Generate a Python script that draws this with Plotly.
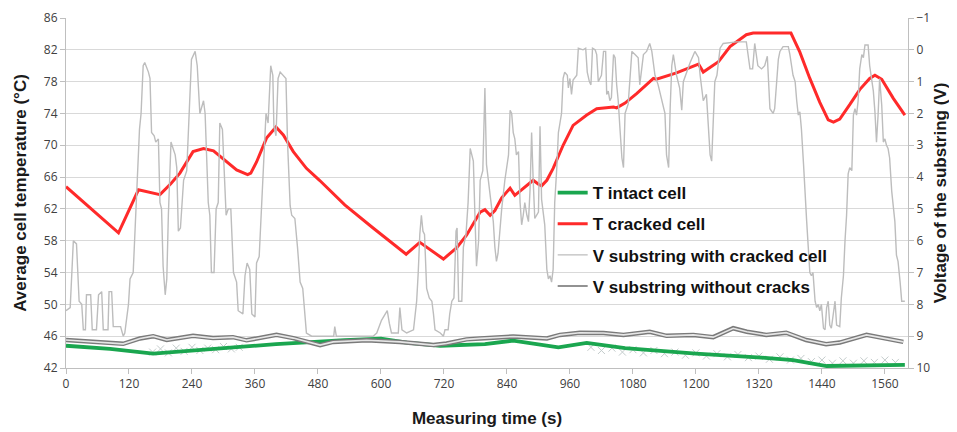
import plotly.graph_objects as go

# ---------------- data ----------------
# T cracked cell (°C), left axis
t_cracked = [0, 100, 138, 150, 179, 200, 217, 242, 262, 281, 306, 325, 346, 352, 363, 382, 400, 414,
             433, 458, 483, 531, 585, 648, 674, 719, 744, 763, 789, 798, 808, 817, 830, 846, 855,
             871, 890, 900, 906, 916, 928, 947, 966, 992, 1011, 1043, 1049, 1065, 1087, 1119, 1125,
             1163, 1205, 1214, 1243, 1265, 1296, 1309, 1340, 1381, 1398, 1417, 1436, 1452, 1462,
             1474, 1493, 1512, 1531, 1541, 1554, 1576, 1598]
T_cracked = [64.8, 59.0, 64.4, 64.2, 63.8, 65.2, 66.5, 69.2, 69.6, 69.3, 67.9, 66.9, 66.3, 66.5, 67.9,
             70.9, 72.3, 71.3, 69.2, 67.1, 65.6, 62.5, 59.6, 56.3, 57.8, 55.7, 57.1, 58.7, 61.6, 61.9,
             61.2, 61.8, 63.4, 64.6, 63.7, 64.6, 65.6, 65.1, 64.9, 65.6, 67.1, 70.0, 72.5, 73.8, 74.6,
             74.8, 74.7, 75.3, 76.5, 78.4, 78.3, 79.1, 80.2, 79.2, 80.5, 82.4, 83.9, 84.1, 84.1, 84.1,
             81.7, 78.4, 75.4, 73.2, 72.9, 73.3, 75.1, 77.0, 78.4, 78.8, 78.3, 75.9, 73.8]

# T intact cell (°C), left axis
t_intact = [0, 84, 166, 265, 400, 531, 600, 649, 713, 798, 852, 938, 992, 1065, 1200, 1325, 1385,
            1449, 1520, 1598]
T_intact = [44.8, 44.4, 43.8, 44.3, 45.0, 45.5, 45.7, 45.2, 44.8, 45.0, 45.45, 44.6, 45.15, 44.5,
            43.8, 43.3, 43.0, 42.25, 42.3, 42.4]

# faint raw readings (cross markers) near the intact-cell curve
t_raw = [165, 180, 195, 210, 225, 240, 255, 270, 285, 300, 315, 330,
         1000, 1020, 1040, 1060, 1080, 1100, 1120, 1140, 1160, 1180, 1200, 1220, 1240, 1260, 1280,
         1300, 1320, 1340, 1360, 1380, 1400, 1420, 1440, 1460, 1480, 1500, 1520, 1540, 1560, 1580]
T_raw = [44.0, 44.4, 43.9, 44.5, 44.1, 44.6, 44.2, 44.5, 44.3, 44.7, 44.4, 44.6,
         44.6, 44.2, 44.5, 44.0, 44.3, 43.9, 44.2, 43.8, 44.0, 43.6, 43.9, 43.5, 43.8, 43.4, 43.7,
         43.3, 43.5, 43.1, 43.4, 43.0, 43.2, 42.8, 43.0, 42.6, 42.9, 42.6, 42.9, 42.7, 43.0, 42.7]

# V substring with cracked cell (V), right axis
t_vcrack = [0, 8, 14, 20, 25, 30, 33, 37, 39, 47, 50, 58, 62, 68, 71, 80, 82, 87, 90, 98, 104, 109,
            112, 119, 122, 128, 135, 140, 143, 147, 150, 157, 160, 163, 168, 171, 176, 179, 182, 185,
            189, 192, 195, 200, 204, 208, 211, 214, 218, 224, 230, 236, 239, 246, 250, 255, 262, 265,
            268, 271, 274, 277, 282, 286, 290, 293, 298, 301, 305, 309, 314, 319, 325, 328, 337, 341,
            345, 350, 354, 360, 363, 368, 373, 377, 381, 385, 390, 394, 396, 400, 404, 408, 414, 419,
            422, 427, 430, 436, 441, 446, 451, 455, 458, 468, 496, 510, 512, 515, 585, 592, 601, 608,
            612, 616, 620, 633, 636, 640, 649, 662, 668, 671, 674, 677, 680, 683, 687, 692, 697, 700,
            703, 713, 719, 722, 728, 731, 735, 739, 743, 745, 748, 754, 757, 762, 766, 770, 773, 776,
            779, 782, 786, 789, 794, 798, 801, 808, 814, 817, 820, 823, 827, 830, 836, 843, 846, 849,
            852, 855, 858, 862, 865, 868, 871, 874, 878, 881, 884, 887, 890, 893, 900, 903, 906, 909,
            912, 916, 919, 922, 925, 928, 931, 935, 938, 941, 944, 947, 950, 955, 957, 960, 963, 966,
            973, 976, 985, 990, 993, 997, 1000, 1003, 1008, 1011, 1014, 1017, 1020, 1024, 1028, 1030,
            1033, 1036, 1039, 1043, 1046, 1049, 1052, 1055, 1059, 1062, 1065, 1071, 1078, 1084, 1090,
            1093, 1100, 1106, 1112, 1116, 1122, 1128, 1135, 1141, 1144, 1148, 1151, 1154, 1157, 1163,
            1169, 1173, 1176, 1182, 1189, 1198, 1205, 1208, 1214, 1220, 1227, 1230, 1233, 1236, 1240,
            1246, 1252, 1277, 1296, 1303, 1308, 1312, 1318, 1325, 1331, 1336, 1341, 1347, 1350, 1354,
            1357, 1360, 1366, 1376, 1379, 1385, 1389, 1392, 1395, 1398, 1401, 1405, 1408, 1411, 1414,
            1417, 1420, 1423, 1427, 1430, 1433, 1436, 1439, 1443, 1446, 1449, 1452, 1455, 1458, 1462,
            1465, 1468, 1474, 1477, 1481, 1484, 1487, 1490, 1493, 1497, 1500, 1503, 1506, 1509, 1512,
            1516, 1519, 1522, 1528, 1531, 1535, 1538, 1541, 1544, 1547, 1550, 1554, 1557, 1560, 1563,
            1566, 1569, 1573, 1576, 1579, 1582, 1585, 1589, 1592, 1598]
V_crack = [8.2, 8.1, 6.0, 6.1, 7.9, 8.0, 8.8, 8.8, 7.7, 7.7, 8.8, 8.8, 7.7, 7.6, 8.8, 8.8, 7.6, 7.6,
           8.7, 8.7, 8.7, 9.0, 8.9, 8.0, 7.2, 7.0, 4.4, 2.5, 2.0, 0.5, 0.4, 0.7, 0.9, 2.6, 2.7, 2.9,
           2.8, 4.8, 5.0, 6.8, 7.7, 7.2, 5.2, 2.9, 3.1, 3.3, 3.7, 5.7, 5.6, 4.1, 3.8, 1.5, 0.3, 0.05,
           0.5, 2.0, 1.6, 2.0, 3.3, 4.8, 5.2, 7.0, 7.0, 5.0, 4.8, 2.3, 2.5, 3.5, 5.2, 5.0, 5.0, 7.0,
           7.3, 8.2, 8.3, 7.1, 6.7, 6.9, 8.3, 8.4, 6.7, 6.5, 4.6, 3.1, 2.0, 2.3, 0.5, 0.8, 2.4, 2.7,
           0.9, 0.7, 0.8, 0.9, 2.9, 4.9, 5.2, 5.3, 6.2, 7.3, 7.5, 8.5, 8.9, 9.0, 9.0, 9.0, 8.7, 9.0,
           9.0, 8.9, 8.5, 8.3, 8.2, 8.6, 8.9, 8.9, 8.1, 8.8, 8.9, 8.8, 7.9, 7.0, 5.8, 5.2, 5.7, 5.8,
           7.5, 7.8, 7.9, 8.3, 8.8, 8.9, 9.0, 8.8, 8.8, 8.3, 7.9, 7.8, 5.7, 5.6, 7.9, 7.9, 6.2, 5.8,
           4.8, 3.1, 3.3, 3.5, 5.2, 6.8, 6.0, 4.1, 3.8, 1.2, 3.6, 4.6, 5.4, 6.2, 6.65, 6.4, 5.6, 5.0,
           4.1, 3.3, 1.9, 2.0, 2.6, 2.8, 3.3, 3.2, 4.8, 5.5, 5.2, 4.8, 5.2, 5.4, 4.4, 2.6, 4.1, 5.3,
           5.1, 2.4, 4.7, 5.2, 5.5, 6.9, 7.2, 7.1, 7.3, 6.9, 4.8, 3.7, 2.6, 2.3, 2.0, 0.9, 0.7, 0.8,
           1.2, 0.9, 1.4, 0.95, 0.8, -0.05, 0.0, -0.05, 0.7, 1.0, 1.1, -0.05, 0.0, 0.15, 1.0, 0.9,
           0.8, 0.05, 0.05, 1.4, 1.3, 1.6, 1.5, 0.15, 0.25, 1.1, 1.6, 2.4, 3.4, 3.7, 2.0, 1.7, 0.05,
           0.15, 0.25, 1.1, 0.15, 0.05, -0.2, 0.05, 0.8, 1.1, 1.6, 2.0, 3.3, 3.7, 1.8, 0.5, 0.15,
           0.8, 1.2, 1.9, 1.0, 0.7, 0.4, 0.05, 0.25, 0.8, 1.6, 1.4, 3.3, 3.5, 2.0, 1.0, 0.8, -0.05,
           -0.2, -0.25, -0.25, 0.6, 0.6, -0.2, 0.5, 0.6, 0.5, 0.2, 1.85, 2.0, 1.85, 0.8, 0.3, 0.05,
           -0.1, -0.1, 0.15, 0.8, 1.0, 1.6, 2.05, 1.95, 2.5, 3.6, 4.7, 5.4, 6.2, 7.0, 7.1, 7.0, 7.9,
           8.1, 8.0, 8.2, 8.0, 8.75, 8.8, 8.1, 7.9, 8.65, 8.75, 8.3, 7.9, 8.65, 8.7, 7.8, 7.1, 6.0,
           5.2, 3.9, 3.7, 3.8, 2.05, 1.85, 2.05, 1.6, 0.6, 0.15, 0.25, -0.15, -0.15, 0.5, 0.9, 1.3,
           1.95, 2.9, 2.05, 0.9, 1.75, 2.9, 2.8, 3.0, 3.1, 3.4, 4.45, 4.9, 5.4, 6.45, 6.65, 7.3, 7.9,
           7.9]

# V substring without cracks (V), right axis
t_vok = [0, 65, 109, 141, 166, 192, 242, 280, 318, 344, 382, 401, 433, 484, 509, 573, 636, 700, 725,
         763, 789, 852, 916, 941, 979, 1024, 1062, 1112, 1144, 1195, 1233, 1271, 1297, 1334, 1372,
         1410, 1448, 1474, 1525, 1550, 1595]
V_ok = [9.12, 9.2, 9.24, 9.07, 9.0, 9.12, 8.99, 9.06, 9.03, 9.13, 9.01, 8.96, 9.06, 9.28, 9.18,
        9.13, 9.18, 9.28, 9.23, 9.10, 9.07, 9.01, 9.07, 8.96, 8.89, 8.9, 8.96, 8.86, 8.99, 8.96,
        9.03, 8.75, 8.86, 8.96, 8.89, 9.12, 9.25, 9.2, 8.96, 9.03, 9.18]

x_ticks = list(range(0, 1561, 120))
names = ["T intact cell", "T cracked cell", "V substring with cracked cell",
         "V substring without cracks"]

# ---------------- figure ----------------
fig = go.Figure()

fig.add_trace(go.Scatter(x=t_vcrack, y=V_crack, yaxis="y2", mode="lines",
                         line=dict(color="#bdbdbd", width=1.4),
                         name=names[2], legendrank=3, legendgroup="c"))
fig.add_trace(go.Scatter(x=t_vok, y=V_ok, yaxis="y2", mode="lines",
                         line=dict(color="#7a7a7a", width=4.5),
                         showlegend=False, hoverinfo="skip"))
fig.add_trace(go.Scatter(x=t_vok, y=V_ok, yaxis="y2", mode="lines",
                         line=dict(color="#e6e6e6", width=1.6),
                         showlegend=False))
fig.add_trace(go.Scatter(x=[None], y=[None], yaxis="y2", mode="lines",
                         line=dict(color="#6e6e6e", width=1.6),
                         name=names[3], legendrank=4, legendgroup="d"))
fig.add_trace(go.Scatter(x=t_raw, y=T_raw, mode="markers",
                         marker=dict(symbol="x-thin", size=7,
                                     line=dict(color="#c4cccc", width=1)),
                         showlegend=False))
fig.add_trace(go.Scatter(x=t_intact, y=T_intact, mode="lines",
                         line=dict(color="#1aa64f", width=3.8),
                         name=names[0], legendrank=1, legendgroup="a"))
fig.add_trace(go.Scatter(x=t_cracked, y=T_cracked, mode="lines",
                         line=dict(color="#ff2a2a", width=3),
                         name=names[1], legendrank=2, legendgroup="b"))

tick_font = dict(family="Open Sans, sans-serif", size=12, color="#404040")
title_font = dict(family="Liberation Sans, Arial, sans-serif", size=17, color="#1a1a1a")

# the page body adds an 8px offset, so the figure is 8px smaller and margins shifted
fig.update_layout(
    width=949, height=424,
    margin=dict(l=58, r=49, t=10, b=64, autoexpand=False),
    paper_bgcolor="white", plot_bgcolor="white",
    showlegend=True,
    legend=dict(x=0.578, y=0.551, xanchor="left", yanchor="top",
                bgcolor="rgba(0,0,0,0)", itemwidth=30, tracegroupgap=6,
                traceorder="grouped",
                font=dict(family="Liberation Sans, Arial, sans-serif", size=17,
                          color="#111111", weight="bold")),
    xaxis=dict(range=[0, 1604], tickvals=x_ticks, ticktext=[str(v) for v in x_ticks],
               showgrid=False, zeroline=False, showline=True, linecolor="#bfbfbf",
               ticks="outside", ticklen=5, tickcolor="#bfbfbf", tickfont=tick_font,
               title=dict(text="<b>Measuring time (s)</b>", font=title_font, standoff=20)),
    yaxis=dict(range=[42, 86], dtick=4, tick0=42, showgrid=True, gridcolor="#d9d9d9",
               gridwidth=1, zeroline=False, showline=True, linecolor="#bfbfbf",
               ticks="outside", ticklen=5, tickcolor="#bfbfbf", tickfont=tick_font,
               title=dict(text="<b>Average cell temperature (°C)</b>", font=title_font,
                          standoff=12)),
    yaxis2=dict(range=[10, -1], dtick=1, tick0=-1, overlaying="y", side="right",
                showgrid=False, zeroline=False, showline=True, linecolor="#bfbfbf",
                ticks="outside", ticklen=5, tickcolor="#bfbfbf", tickfont=tick_font,
                title=dict(text="<b>Voltage of the substring (V)</b>", font=title_font,
                           standoff=4)),
)

fig.write_html("out.html")
